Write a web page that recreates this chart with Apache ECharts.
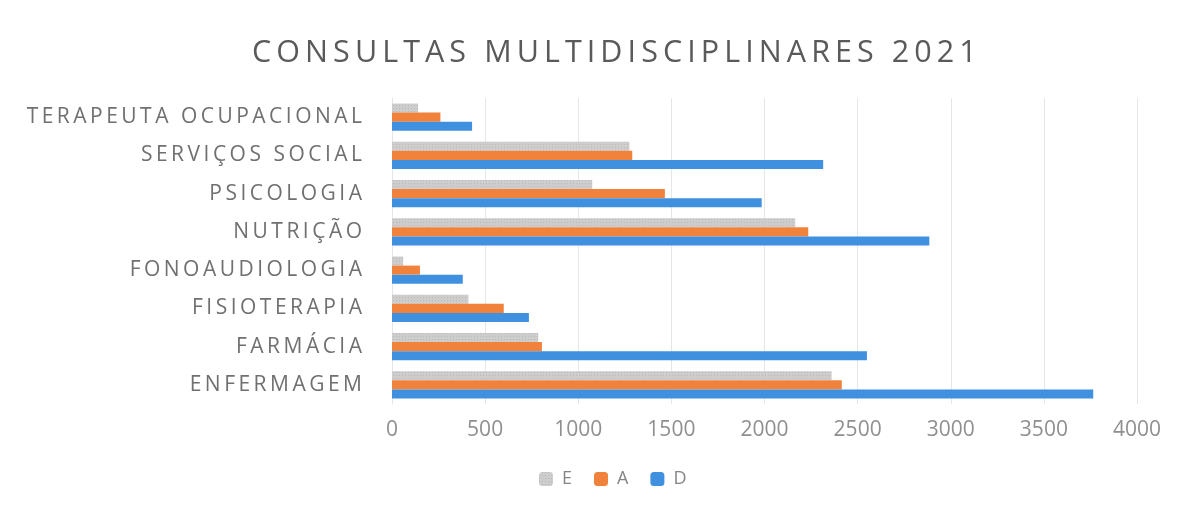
<!DOCTYPE html>
<html style="height: 100%">
   <head>
       <meta charset="utf-8">
   </head>
   <body style="height: 100%; margin: 0; background: #fff">
       <div id="container" style="width: 1194px; height: 506px"></div>
       <script type="text/javascript" src="https://cdn.jsdelivr.net/npm/echarts@6/dist/echarts.min.js"></script>
	<script type="text/javascript">
		// categories listed bottom -> top (category y axis starts at the bottom)
		var categorias = ['ENFERMAGEM', 'FARMÁCIA', 'FISIOTERAPIA', 'FONOAUDIOLOGIA',
		                  'NUTRIÇÃO', 'PSICOLOGIA', 'SERVIÇOS SOCIAL', 'TERAPEUTA OCUPACIONAL'];
		var serieE = [2360, 785, 410, 60, 2165, 1075, 1275, 140];
		var serieA = [2415, 805, 600, 150, 2235, 1465, 1290, 260];
		var serieD = [3765, 2550, 735, 380, 2885, 1985, 2315, 430];
		var titulo = 'CONSULTAS MULTIDISCIPLINARES 2021';

		// the original text is letter-spaced, fake it with narrow unicode spaces
		function espacar(s, sep) { return s.split('').join(sep); }

		var dom = document.getElementById("container");
		var myChart = echarts.init(dom);
		var option = null;

		option = {
			animation: false,
			title: {
				text: espacar(titulo, '\u2009'),
				left: 247,
				top: 33,
				textStyle: {
					fontFamily: 'Open Sans',
					fontWeight: 'normal',
					fontSize: 30.5,
					color: '#5a5a5a'
				}
			},
			legend: {
				data: ['E', 'A', 'D'],
				top: 465,
				left: 534,
				itemWidth: 14,
				itemHeight: 14,
				itemGap: 22,
				textStyle: {
					fontFamily: 'Open Sans', fontSize: 18, color: '#858585',
					padding: [0, 0, 0, 4]
				}
			},
			grid: {
				left: 392,
				right: 57,
				top: 98,
				bottom: 102
			},
			xAxis: {
				type: 'value',
				min: 0,
				max: 4000,
				interval: 500,
				axisLine: { show: false },
				axisTick: { show: false },
				axisLabel: {
					margin: 16,
					fontFamily: 'Open Sans',
					fontSize: 21,
					color: '#8f8f8f',
					formatter: function (v) { return String(v); }
				},
				splitLine: { lineStyle: { color: '#e6e6e6', width: 1 } }
			},
			yAxis: {
				type: 'category',
				data: categorias,
				axisLine: { lineStyle: { color: '#e6e6e6' } },
				axisTick: { show: false },
				axisLabel: {
					margin: 30,
					fontFamily: 'Open Sans',
					fontSize: 21,
					color: '#707070',
					formatter: function (v) { return espacar(v, '\u2009'); }
				}
			},
			series: [
				{
					name: 'E', type: 'bar', data: serieE,
					barGap: '0%', barCategoryGap: '29%',
					itemStyle: {
						color: '#cdcdcd',
						decal: {
							symbol: 'rect', symbolSize: 1,
							color: 'rgba(150,150,150,0.35)',
							dashArrayX: [1, 2], dashArrayY: [1, 2]
						}
					}
				},
				{
					name: 'A', type: 'bar', data: serieA,
					barGap: '0%', barCategoryGap: '29%',
					itemStyle: { color: '#f0823c' }
				},
				{
					name: 'D', type: 'bar', data: serieD,
					barGap: '0%', barCategoryGap: '29%',
					itemStyle: { color: '#3f90df' }
				}
			]
		};

		if (option && typeof option === "object") {
		    myChart.setOption(option, true);
		}
		window.onresize = myChart.resize;
	</script>
   </body>
</html>
